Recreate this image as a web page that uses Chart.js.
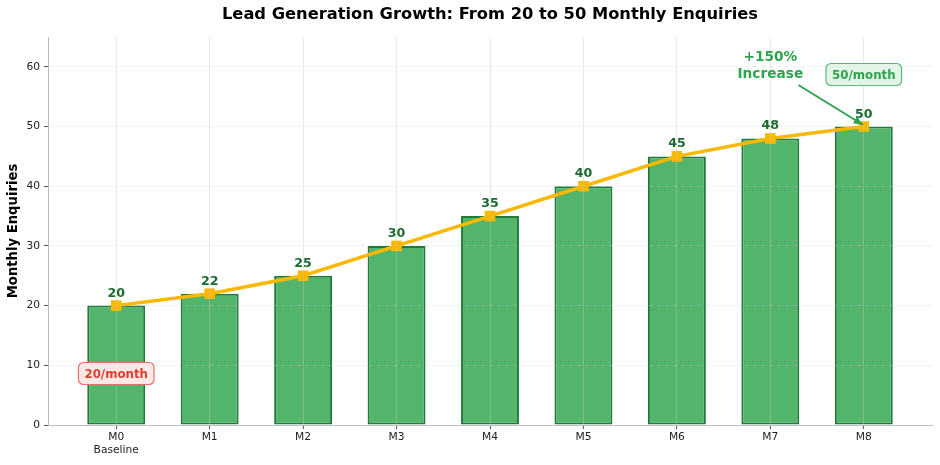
<!DOCTYPE html>
<html>
<head>
<meta charset="utf-8">
<script src="https://cdn.jsdelivr.net/npm/chart.js@4/dist/chart.umd.min.js"></script>
<style>
  html, body { margin: 0; padding: 0; background: #fff; }
  #wrap { width: 940px; height: 465px; }
</style>
</head>
<body>
<div id="wrap"><canvas id="chart"></canvas></div>
<script>
// data
const months = ['M0', 'M1', 'M2', 'M3', 'M4', 'M5', 'M6', 'M7', 'M8'];
const enquiries = [20, 22, 25, 30, 35, 40, 45, 48, 50];
const yTicks = [0, 10, 20, 30, 40, 50, 60];

const font = "'DejaVu Sans', sans-serif";

const barPoints = enquiries.map((v, i) => ({ x: i, y: v }));

// labels, title and callouts drawn on top of everything
const extras = {
  id: 'extras',
  afterDraw(chart) {
    const ctx = chart.ctx;
    const x = chart.scales.x, y = chart.scales.y;
    const area = chart.chartArea;
    ctx.save();

    // value labels
    ctx.font = 'bold 12.6px ' + font;
    ctx.fillStyle = '#1b6b30';
    ctx.textAlign = 'center';
    ctx.textBaseline = 'alphabetic';
    enquiries.forEach((v, i) => {
      ctx.fillText(String(v), x.getPixelForValue(i), y.getPixelForValue(v) - 9);
    });

    // title
    ctx.font = 'bold 16.3px ' + font;
    ctx.fillStyle = '#000';
    ctx.textBaseline = 'middle';
    ctx.fillText('Lead Generation Growth: From 20 to 50 Monthly Enquiries', (area.left + area.right) / 2, 15);

    // +150% callout
    ctx.font = 'bold 13.7px ' + font;
    ctx.fillStyle = '#2ea44f';
    const cx = x.getPixelForValue(7);
    ctx.fillText('+150%', cx, 57.5);
    ctx.fillText('Increase', cx, 74);

    // arrow
    const ax0 = x.getPixelForValue(7.3), ay0 = 85;
    const ax1 = x.getPixelForValue(7.99), ay1 = y.getPixelForValue(50.3);
    ctx.strokeStyle = '#2ea44f';
    ctx.lineWidth = 2;
    ctx.beginPath();
    ctx.moveTo(ax0, ay0);
    ctx.lineTo(ax1, ay1);
    ctx.stroke();
    const ang = Math.atan2(ay1 - ay0, ax1 - ax0);
    ctx.fillStyle = '#2ea44f';
    ctx.beginPath();
    ctx.moveTo(ax1, ay1);
    ctx.lineTo(ax1 - 10 * Math.cos(ang - 0.4), ay1 - 10 * Math.sin(ang - 0.4));
    ctx.lineTo(ax1 - 10 * Math.cos(ang + 0.4), ay1 - 10 * Math.sin(ang + 0.4));
    ctx.closePath();
    ctx.fill();

    // boxed labels
    function box(text, px, py, fill, stroke, color) {
      ctx.font = 'bold 11.8px ' + font;
      const w = ctx.measureText(text).width + 12;
      const h = 22;
      ctx.beginPath();
      ctx.roundRect(px - w / 2, py - h / 2, w, h, 5);
      ctx.fillStyle = fill;
      ctx.fill();
      ctx.strokeStyle = stroke;
      ctx.lineWidth = 1.2;
      ctx.stroke();
      ctx.fillStyle = color;
      ctx.textBaseline = 'middle';
      ctx.fillText(text, px, py + 1);
    }
    box('50/month', x.getPixelForValue(8), 74.5, '#e3f5e6', '#5cb874', '#2ea44f');
    box('20/month', x.getPixelForValue(0), 373.5, '#fde8e6', '#e8706a', '#e03c31');

    ctx.restore();
  }
};

new Chart(document.getElementById('chart'), {
  type: 'bar',
  data: {
    datasets: [
      {
        type: 'line',
        label: 'Trend',
        data: barPoints,
        borderColor: '#fbb800',
        backgroundColor: '#fbb800',
        borderWidth: 3.5,
        pointStyle: 'rect',
        pointRadius: 7.5,
        pointHoverRadius: 7.5,
        pointBorderWidth: 0,
        tension: 0,
        order: 0
      },
      {
        label: 'Monthly Enquiries',
        data: barPoints,
        backgroundColor: '#52b56b',
        borderColor: '#1e7b3a',
        borderWidth: 2,
        borderSkipped: false,
        barPercentage: 0.62,
        categoryPercentage: 1,
        order: 1
      }
    ]
  },
  options: {
    responsive: true,
    maintainAspectRatio: false,
    animation: false,
    layout: { padding: { top: 37, right: 8, left: 0, bottom: 0 } },
    plugins: {
      legend: { display: false },
      title: { display: false },
      tooltip: { enabled: false }
    },
    scales: {
      x: {
        type: 'linear',
        offset: false,
        min: -0.73,
        max: 8.73,
        afterBuildTicks(scale) {
          scale.ticks = months.map((m, i) => ({ value: i }));
        },
        ticks: {
          font: { family: font, size: 10.7 },
          color: '#222',
          padding: 2,
          maxRotation: 0,
          callback: v => (v === 0 ? [months[0], 'Baseline'] : months[v])
        },
        grid: {
          z: 1,
          offset: false,
          color: 'rgba(200,200,200,0.4)',
          lineWidth: 1,
          tickLength: 4,
          tickColor: '#555'
        },
        border: { display: true, color: '#bbb', width: 1, z: 1 },
        afterFit(scale) { scale.height = 40; }
      },
      y: {
        min: 0,
        max: 65,
        afterBuildTicks(scale) {
          scale.ticks = yTicks.map(v => ({ value: v }));
        },
        ticks: {
          font: { family: font, size: 10.7 },
          color: '#222',
          padding: 4
        },
        title: {
          display: true,
          text: 'Monthly Enquiries',
          font: { family: font, size: 13.2, weight: 'bold' },
          color: '#000',
          padding: { top: 6, bottom: 4 }
        },
        grid: {
          z: 1,
          color: 'rgba(200,200,200,0.4)',
          lineWidth: 1,
          tickLength: 4,
          tickColor: '#555'
        },
        border: { display: true, color: '#bbb', width: 1, z: 1, dash: [4, 4] },
        afterFit(scale) { scale.width = 48; }
      }
    }
  },
  plugins: [extras]
});
</script>
</body>
</html>
